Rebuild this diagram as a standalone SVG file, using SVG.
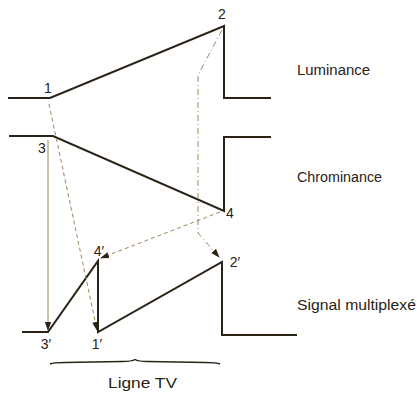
<svg xmlns="http://www.w3.org/2000/svg" width="417" height="393" viewBox="0 0 417 393">
<defs>
<style>
.sig{fill:none;stroke:#2a2216;stroke-width:2;stroke-linejoin:miter}
.con{fill:none;stroke:#9c875a;stroke-width:1}
.dash{stroke-dasharray:4 3}
.dd{stroke-dasharray:6 3 1 3}
.lbl{font-family:"Liberation Sans",Arial,sans-serif;font-size:14px;fill:#2a2216;text-anchor:middle}
.name{font-family:"Liberation Sans",Arial,sans-serif;font-size:14px;fill:#2a2216}
</style>
<marker id="ah" viewBox="0 0 10 10" refX="9" refY="5" markerWidth="9" markerHeight="9" markerUnits="userSpaceOnUse" orient="auto">
<path d="M0,1.5 L10,5 L0,8.5 Z" fill="#2a2216"/>
</marker>
</defs>
<rect width="417" height="393" fill="#ffffff"/>
<g id="luminance">
<polyline class="sig" points="8,98 50,98 224,26 224,98 271,98"/>
<text class="name" x="297" y="75" textLength="73" lengthAdjust="spacingAndGlyphs">Luminance</text>
</g>
<g id="chrominance">
<polyline class="sig" points="9,136 53,136 224,211 224,137 271,137"/>
<text class="name" x="297" y="182" textLength="85" lengthAdjust="spacingAndGlyphs">Chrominance</text>
</g>
<g id="multiplex">
<polyline class="sig" points="22,332 48,332 98,261 98,332 222,262 222,335 297,335"/>
<text class="name" x="297" y="310" textLength="119" lengthAdjust="spacingAndGlyphs">Signal multiplexé</text>
</g>
<g id="labels">
<text class="lbl" x="48" y="93">1</text>
<text class="lbl" x="222" y="19">2</text>
<text class="lbl" x="42" y="153">3</text>
<text class="lbl" x="230" y="218">4</text>
<text class="lbl" x="99" y="256">4′</text>
<text class="lbl" x="235" y="267">2′</text>
<text class="lbl" x="46" y="349">3′</text>
<text class="lbl" x="97" y="349">1′</text>
</g>
<g id="connectors">
<line class="con" x1="48" y1="140" x2="48" y2="330" marker-end="url(#ah)"/>
<line class="con dash" x1="49" y1="104" x2="97" y2="330" marker-end="url(#ah)"/>
<path class="con dd" d="M222,30 L198,75 L198,233 L219,257" marker-end="url(#ah)"/>
<line class="con dash" x1="220" y1="212" x2="101" y2="258" marker-end="url(#ah)"/>
</g>
<g id="brace">
<path d="M50,364 Q53,362.5 65,362.5 L122,361.5 Q132,361.5 135,359.5 Q138,361.5 148,361.5 L205,362.5 Q217,362.5 220,364" fill="none" stroke="#2a2216" stroke-width="1.4"/>
<text class="name" x="108" y="388" textLength="69" lengthAdjust="spacingAndGlyphs">Ligne TV</text>
</g>
</svg>
